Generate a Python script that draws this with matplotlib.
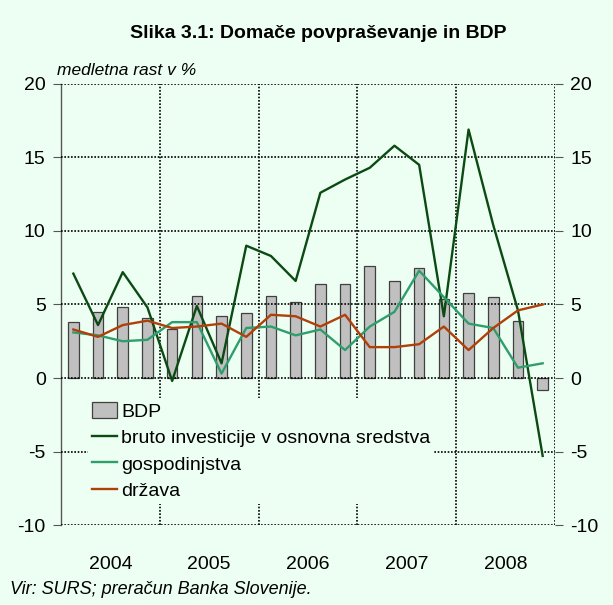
import matplotlib
matplotlib.use("Agg")
import matplotlib.pyplot as plt
from matplotlib.patches import Patch
from matplotlib.lines import Line2D
import numpy as np

plt.rcParams['font.family'] = ['Liberation Sans', 'DejaVu Sans']
plt.rcParams['axes.unicode_minus'] = False

years = ["2004", "2005", "2006", "2007", "2008"]
quarters = np.arange(20)

bdp = [3.8, 4.5, 4.8, 4.1, 3.3, 5.6, 4.2, 4.4, 5.6, 5.2,
       6.4, 6.4, 7.6, 6.6, 7.5, 5.4, 5.8, 5.5, 3.9, -0.8]
investicije = [7.1, 3.6, 7.2, 4.8, -0.2, 4.9, 1.0, 9.0, 8.3, 6.6,
               12.6, 13.5, 14.3, 15.8, 14.5, 4.2, 16.9, 10.4, 4.6, -5.3]
gospodinjstva = [3.1, 2.9, 2.5, 2.6, 3.8, 3.8, 0.3, 3.4, 3.5, 2.9,
                 3.3, 1.9, 3.5, 4.5, 7.3, 5.5, 3.7, 3.4, 0.7, 1.0]
drzava = [3.3, 2.8, 3.6, 3.9, 3.4, 3.5, 3.7, 2.8, 4.3, 4.2,
          3.5, 4.3, 2.1, 2.1, 2.3, 3.5, 1.9, 3.4, 4.6, 5.0]

bg = "#EDFFF2"
c_inv = "#0B4A12"
c_gos = "#2E9E6C"
c_drz = "#B0400A"
dots = (0, (1, 1))

fig = plt.figure(figsize=(6.13, 6.05), dpi=100, facecolor=bg)
ax = fig.add_axes([0.0995, 0.1322, 0.8059, 0.729])
ax.set_facecolor(bg)

ax.bar(quarters, bdp, width=0.43, color="#C0C0C0", edgecolor="#404040",
       linewidth=0.9, zorder=2)
ax.plot(quarters, investicije, color=c_inv, lw=1.7, zorder=4)
ax.plot(quarters, gospodinjstva, color=c_gos, lw=1.7, zorder=4)
ax.plot(quarters, drzava, color=c_drz, lw=1.7, zorder=4)

ax.set_xlim(-0.5, 19.5)
ax.set_ylim(-10, 20)
ax.set_yticks(np.arange(-10, 21, 5))

# year boundaries carry the grid, year centres carry the labels
ax.set_xticks(np.arange(3.5, 20, 4))
ax.set_xticks(np.arange(1.5, 20, 4), minor=True)
ax.set_xticklabels([])
ax.set_xticklabels(years, minor=True)
ax.tick_params(axis="x", which="both", length=0)
ax.tick_params(axis="x", which="minor", pad=22, labelsize=14)

ax.tick_params(axis="y", left=True, right=True, labelleft=True, labelright=True,
               labelsize=14, color="#555555")
ax.tick_params(axis="y", which="major", length=6, pad=5)

for y in np.arange(-10, 21, 5):
    ax.axhline(y, color="black", ls=dots, lw=1.2, zorder=3)
for x in np.arange(3.5, 20, 4):
    ax.axvline(x, color="black", ls=dots, lw=1.2, zorder=3)

for s in ["top", "bottom", "right"]:
    ax.spines[s].set_visible(False)
ax.spines["left"].set_color("#555555")
ax.spines["left"].set_linewidth(1.0)

handles = [
    Patch(facecolor="#C0C0C0", edgecolor="#404040", linewidth=0.9, label="BDP"),
    Line2D([], [], color=c_inv, lw=1.7, label="bruto investicije v osnovna sredstva"),
    Line2D([], [], color=c_gos, lw=1.7, label="gospodinjstva"),
    Line2D([], [], color=c_drz, lw=1.7, label="država"),
]
leg = ax.legend(handles=handles, loc="lower left", bbox_to_anchor=(0.035, 0.025),
                fontsize=14, frameon=True, facecolor=bg, edgecolor="none",
                framealpha=1, handlelength=1.3, handleheight=0.9,
                handletextpad=0.2, labelspacing=0.4, borderpad=0.2)
leg.set_zorder(5)

fig.text(0.519, 0.945, "Slika 3.1: Domače povpraševanje in BDP",
         ha="center", va="center", fontsize=14, fontweight="bold")
fig.text(0.093, 0.884, "medletna rast v %", ha="left", va="center",
         fontsize=12.5, style="italic")
fig.text(0.016, 0.025, "Vir: SURS; preračun Banka Slovenije.", ha="left",
         va="center", fontsize=13, style="italic")

fig.savefig("out.png", dpi=100, facecolor=bg)
